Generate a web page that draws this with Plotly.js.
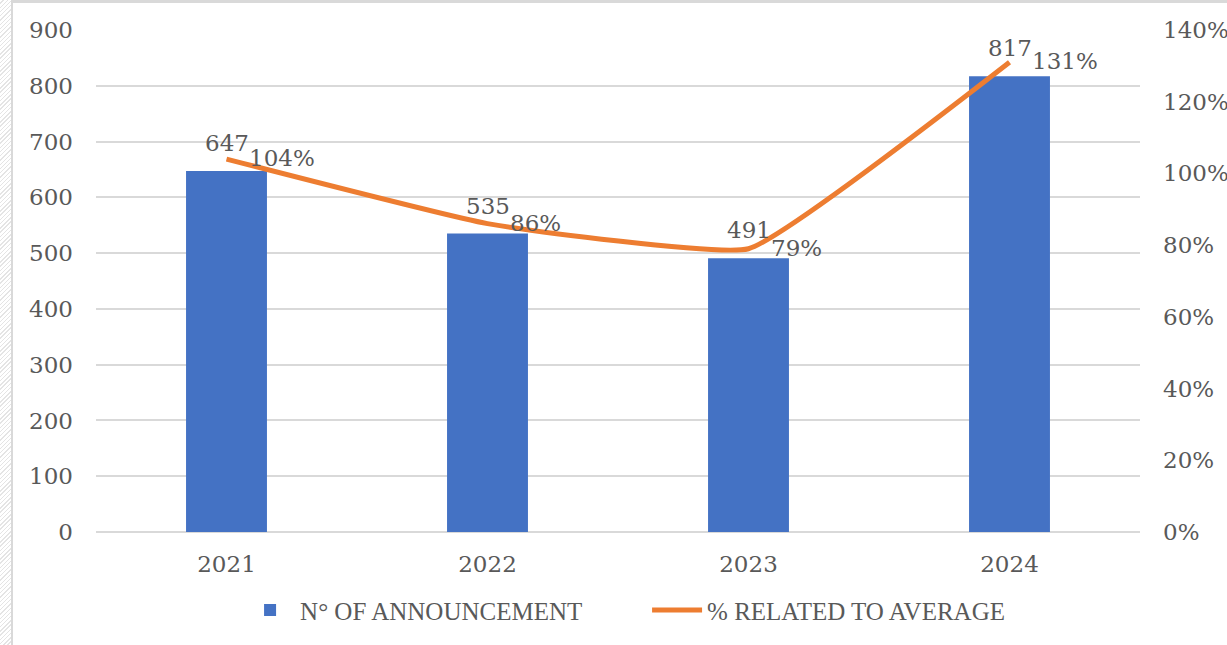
<!DOCTYPE html>
<html>
<head>
<meta charset="utf-8">
<script src="https://cdn.plot.ly/plotly-3.0.1.min.js"></script>
<style>
  html, body { margin: 0; padding: 0; background: #fff; }
  #strip { position: absolute; left: 0; top: 0; width: 11px; height: 645px;
    background: repeating-linear-gradient(135deg, #fff 0 2px, #e4e4e4 2px 3px); }
  #frame { position: absolute; left: 11px; top: 0; width: 1216px; height: 645px;
    border-left: 2px solid #d9d9d9; border-top: 3px solid #d9d9d9; box-sizing: border-box; }
  #chart { position: absolute; left: 0; top: 0; width: 1227px; height: 645px; }
</style>
</head>
<body>
<div id="strip"></div>
<div id="frame"></div>
<div id="chart"></div>
<script>
const years = ['2021', '2022', '2023', '2024'];
const announcements = [647, 535, 491, 817];
const relatedToAverage = [1.04, 0.86, 0.79, 1.31];
const pctLabels = ['104%', '86%', '79%', '131%'];
const seriesNames = ['N° OF ANNOUNCEMENT', '% RELATED TO AVERAGE'];

const numFont = { family: 'DejaVu Serif, serif', size: 23, color: '#595959' };

const traces = [
  {
    type: 'bar', name: seriesNames[0], x: years, y: announcements,
    marker: { color: '#4472C4' }, yaxis: 'y', hoverinfo: 'x+y'
  },
  {
    type: 'scatter', mode: 'lines', name: seriesNames[1], x: years, y: relatedToAverage,
    yaxis: 'y2', line: { color: '#ED7D31', width: 5, shape: 'spline', smoothing: 0.35 }
  }
];

const barLabels = years.map((yr, i) => ({
  x: i, y: announcements[i], xref: 'x', yref: 'y', text: String(announcements[i]),
  showarrow: false, yanchor: 'bottom', yshift: 13, font: numFont
}));
const pctAnnotations = years.map((yr, i) => ({
  x: i, y: relatedToAverage[i], xref: 'x', yref: 'y2', text: pctLabels[i],
  showarrow: false, xanchor: 'left', yanchor: 'middle', xshift: 20, yshift: 1, font: numFont
}));

const layout = {
  width: 1227, height: 645,
  margin: { l: 96, r: 87, t: 30, b: 111 },
  paper_bgcolor: 'rgba(0,0,0,0)', plot_bgcolor: 'rgba(0,0,0,0)',
  bargap: 0.69,
  showlegend: true,
  legend: {
    orientation: 'h', x: 0.138, xanchor: 'left', y: -0.11, yanchor: 'top',
    font: { family: 'Liberation Serif, serif', size: 25, color: '#595959' },
    traceorder: 'normal', itemwidth: 50, entrywidth: 342, entrywidthmode: 'pixels'
  },
  xaxis: {
    type: 'category', range: [-0.5, 3.5], tickfont: numFont, showgrid: false, zeroline: false,
    showline: false, ticks: '', ticklabelstandoff: 16
  },
  yaxis: {
    range: [0, 900], dtick: 100, tickfont: numFont, gridcolor: '#d9d9d9', gridwidth: 2,
    zeroline: true, zerolinecolor: '#d9d9d9', zerolinewidth: 2, showline: false,
    ticks: '', ticklabelstandoff: 22
  },
  yaxis2: {
    overlaying: 'y', side: 'right', range: [0, 1.4], dtick: 0.2, tickformat: '.0%',
    tickfont: numFont, showgrid: false, zeroline: false, showline: false,
    ticks: '', ticklabelstandoff: 22
  },
  annotations: barLabels.concat(pctAnnotations)
};

Plotly.newPlot('chart', traces, layout, { displayModeBar: false, staticPlot: true });
</script>
</body>
</html>
